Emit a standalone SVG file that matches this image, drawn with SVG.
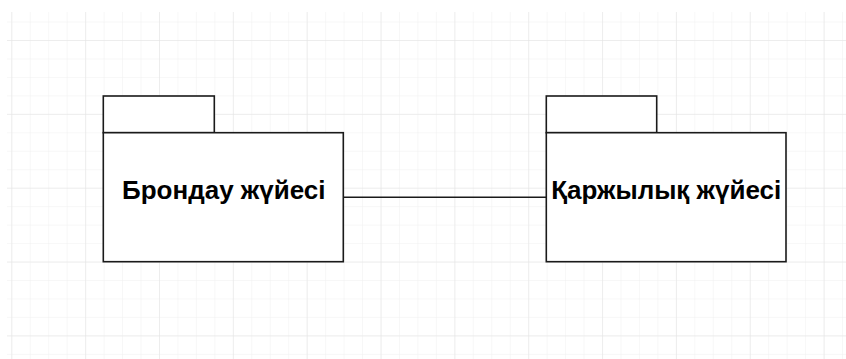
<svg xmlns="http://www.w3.org/2000/svg" width="846" height="359" viewBox="0 0 846 359">
  <defs>
    <pattern id="minor" patternUnits="userSpaceOnUse" x="11.3" y="3.1" width="18.46" height="18.46">
      <path d="M0 0 V18.46 M0 0 H18.46" fill="none" stroke="#f0f0f0" stroke-width="1"/>
    </pattern>
    <pattern id="major" patternUnits="userSpaceOnUse" x="11.3" y="40" width="73.85" height="73.85">
      <path d="M0 0 V73.85 M0 0 H73.85" fill="none" stroke="#e3e3e3" stroke-width="1"/>
    </pattern>
  </defs>
  <style>
    .pkg { fill: #ffffff; stroke: #1a1a1a; stroke-width: 1.6; }
    .lbl { font-family: "Liberation Sans", Arial, sans-serif; font-weight: bold; font-size: 26px; fill: #000000; text-anchor: middle; }
    .conn { stroke: #1a1a1a; stroke-width: 1.6; fill: none; }
  </style>
  <rect x="0" y="0" width="846" height="359" fill="#ffffff"/>
  <rect x="7" y="12" width="839" height="347" fill="url(#minor)"/>
  <rect x="7" y="12" width="839" height="347" fill="url(#major)"/>

  <g id="connectors">
    <line class="conn" x1="343.3" y1="197.3" x2="546.3" y2="197.3"/>
  </g>

  <g id="node-brondau">
    <rect class="pkg" x="103.3" y="96" width="111" height="36.7"/>
    <rect class="pkg" x="103.3" y="132.7" width="240" height="129"/>
    <text class="lbl" x="223.8" y="198.5">Брондау жүйесі</text>
  </g>

  <g id="node-karzhylyk">
    <rect class="pkg" x="546.3" y="96" width="110.4" height="36.7"/>
    <rect class="pkg" x="546.3" y="132.7" width="239.7" height="129"/>
    <text class="lbl" x="666.2" y="198.5">Қаржылық жүйесі</text>
  </g>
</svg>
